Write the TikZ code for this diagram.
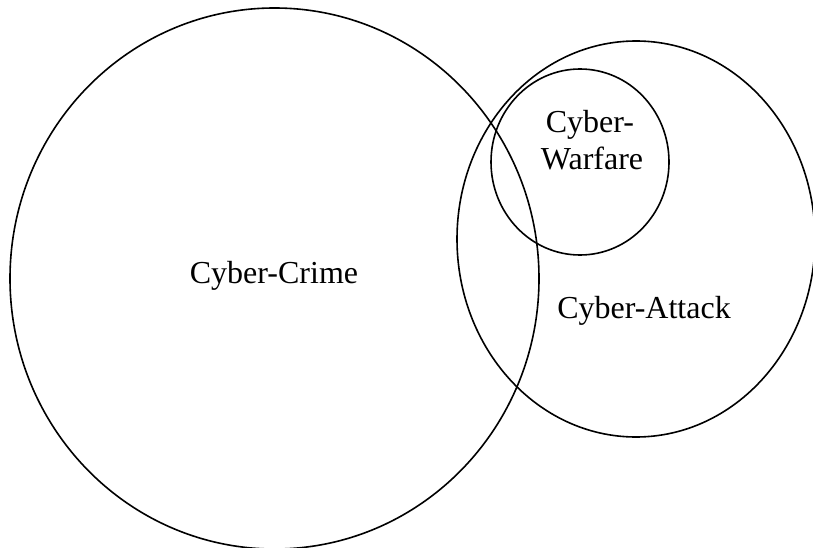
\documentclass[tikz,border=0pt]{standalone}
\usepackage{fontspec}
\setmainfont{Liberation Serif}
\begin{document}
\begin{tikzpicture}[x=1pt,y=-1pt,
  setline/.style={draw=black,line width=1.6pt},
  lbl/.style={font=\fontsize{32}{37}\selectfont,inner sep=0pt,anchor=base}]
\useasboundingbox (0,0) rectangle (813,548);
\draw[setline] (274.5,278.5) ellipse [x radius=264.5, y radius=270.5];
\draw[setline] (636,239) ellipse [x radius=179, y radius=198];
\draw[setline] (580,162) ellipse [x radius=89, y radius=93];
\node[lbl] (crime) at (274,283) {Cyber-Crime};
\node[lbl] (attack) at (644,318) {Cyber-Attack};
\node[lbl] (warA) at (590,133) {Cyber-};
\node[lbl] (warB) at (592,170) {Warfare};
\end{tikzpicture}
\end{document}
